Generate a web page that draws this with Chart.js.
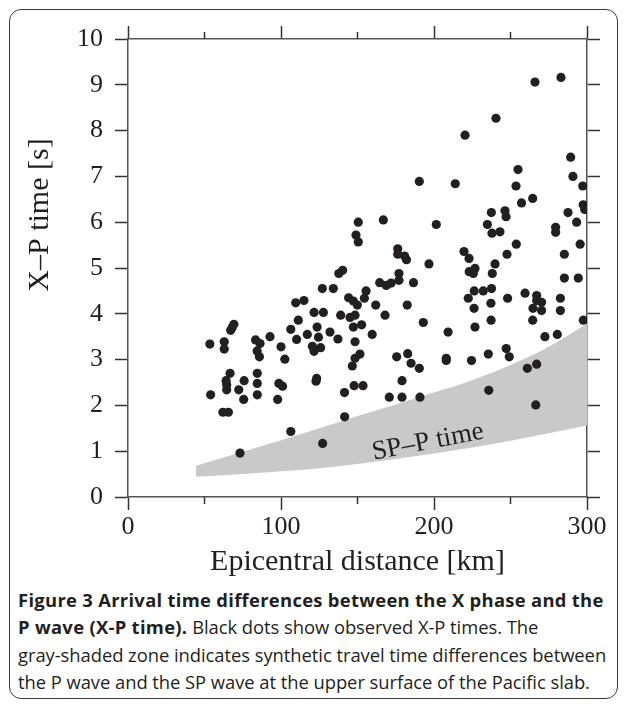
<!DOCTYPE html>
<html>
<head>
<meta charset="utf-8">
<script src="https://cdn.jsdelivr.net/npm/chart.js@4.4.1/dist/chart.umd.min.js"></script>
<style>
  html, body { margin: 0; padding: 0; background: #fff; }
  body { width: 627px; height: 704px; position: relative; overflow: hidden; }
  #frame {
    position: absolute; left: 9px; top: 9px; width: 607px; height: 688px;
    border: 1.5px solid #3a3a3a; border-radius: 12px;
  }
  #xpChart { position: absolute; left: 0; top: 0; }
  #caption {
    position: absolute; left: 18px; top: 586px; width: 605px;
    font-family: "Open Sans", sans-serif; font-size: 18.4px; line-height: 27.3px;
    letter-spacing: -0.05px; color: #231f20; white-space: nowrap;
  }
  #caption b { font-weight: 700; letter-spacing: 0.3px; }
</style>
</head>
<body>
<div id="frame"></div>
<canvas id="xpChart" width="627" height="580"></canvas>
<div id="caption"><b>Figure 3 Arrival time differences between the X phase and the<br>P wave (X-P time).</b> Black dots show observed X-P times. The<br>gray-shaded zone indicates synthetic travel time differences between<br>the P wave and the SP wave at the upper surface of the Pacific slab.</div>

<script>
// ============================================
// X-P TIME vs EPICENTRAL DISTANCE
// ============================================

// observed X-P times (km, s)
const distanceKm = [
    266, 283, 240.5, 220.3, 289.3, 254.9, 290.8, 190.4, 213.9, 253.6,
    297.2, 264.5, 257.2, 297.5, 298.5, 287.6, 246.4, 237.5, 247.1, 293.2,
    150.5, 166.9, 201.5, 234.9, 279.5, 279.5, 237.9, 243.1, 149, 150.5,
    253.8, 295.5, 176.3, 219.6, 176.3, 247.7, 285.2, 180.8, 182, 222.9,
    196.7, 239.9,
    140.3, 137.8, 223, 226.8, 225.7, 238.1, 177.1, 177.1, 285.2, 294.3,
    164.5, 168.8, 172, 186.6, 127, 134.2, 155.6, 226.3, 232.2, 237.6,
    259.5, 267.1, 154.5, 144.2, 147.3, 149.9, 222.4, 248.1, 282.6, 267.1,
    270.3, 109.6, 115, 237.2, 161.9, 182.5, 226.2, 264.7, 270.3, 282.6,
    121.6, 127.7,
    139, 145.1, 148.4, 168, 111.3, 237.3, 264.5, 297.6, 193, 152.7,
    69.2, 68.1, 67.1, 106.4, 123.6, 147.3, 226.8, 209.2, 132, 117.2,
    159.6, 280.6, 124.5, 92.8, 272.5, 137.2, 110.2, 83.4, 86.3, 62.9,
    148.4, 53.5, 62.9, 100, 120.5, 125.9, 247.2, 121.6, 84.4, 151.6,
    182.8, 235.5, 85.9, 175.6, 249.2, 102.5, 148.4, 208, 208, 224.5,
    185, 267.1, 146.6, 190.4, 261, 66.7, 84.5, 123.3, 122.9, 64.1,
    75.9, 179.1, 84.5, 98.6, 101, 64.5, 147.8, 153.6, 64.5, 72.4,
    235.8, 141.5, 54, 84.5, 75.6, 97.8, 170.8, 179.1, 190.8, 266.5,
    62, 65.6, 141.6, 106.4, 127.2, 73.2
];
const xpTime = [
    9.06, 9.16, 8.27, 7.90, 7.42, 7.15, 7.00, 6.89, 6.84, 6.79,
    6.79, 6.52, 6.42, 6.38, 6.28, 6.21, 6.25, 6.21, 6.12, 6.00,
    6.00, 6.05, 5.95, 5.95, 5.89, 5.78, 5.76, 5.79, 5.72, 5.57,
    5.52, 5.52, 5.42, 5.36, 5.30, 5.30, 5.30, 5.26, 5.18, 5.21,
    5.09, 5.09,
    4.95, 4.88, 4.92, 4.99, 4.88, 4.88, 4.88, 4.73, 4.78, 4.78,
    4.68, 4.62, 4.67, 4.68, 4.55, 4.55, 4.50, 4.50, 4.50, 4.55,
    4.45, 4.40, 4.34, 4.35, 4.28, 4.19, 4.34, 4.34, 4.34, 4.29,
    4.25, 4.24, 4.29, 4.23, 4.19, 4.19, 4.12, 4.12, 4.07, 4.07,
    4.03, 4.03,
    3.97, 3.92, 3.97, 3.97, 3.86, 3.86, 3.86, 3.86, 3.81, 3.76,
    3.77, 3.70, 3.64, 3.66, 3.71, 3.71, 3.71, 3.60, 3.60, 3.55,
    3.55, 3.55, 3.49, 3.50, 3.50, 3.45, 3.44, 3.43, 3.35, 3.39,
    3.39, 3.34, 3.23, 3.28, 3.29, 3.26, 3.24, 3.18, 3.19, 3.12,
    3.13, 3.12, 3.06, 3.06, 3.06, 3.01, 3.03, 3.03, 2.98, 2.98,
    2.92, 2.90, 2.86, 2.81, 2.81, 2.70, 2.70, 2.59, 2.53, 2.54,
    2.54, 2.54, 2.48, 2.48, 2.42, 2.45, 2.43, 2.43, 2.34, 2.34,
    2.33, 2.28, 2.23, 2.23, 2.13, 2.13, 2.18, 2.18, 2.18, 2.01,
    1.85, 1.85, 1.75, 1.43, 1.17, 0.96
];

// synthetic SP-P time zone (gray band)
const bandDistance = [44.4, 75, 100, 125, 150, 175, 200, 225, 250, 275, 300];
const bandUpper    = [0.68, 0.99, 1.24, 1.50, 1.77, 2.02, 2.28, 2.55, 2.88, 3.28, 3.79];
const bandLower    = [0.44, 0.50, 0.56, 0.63, 0.72, 0.83, 0.95, 1.08, 1.23, 1.39, 1.56];
const bandLabel = { text: 'SP\u2013P time', x: 196, y: 1.2, angle: -11 };

// axis ticks
const xMajorStep = 100;
const xMinorTicks = [50, 150, 250];
const yStep = 1;

const SERIF = '"Liberation Serif", "Times New Roman", serif';
const INK = '#231f20';
const AXIS = '#555555';

function points(xs, ys) {
    return xs.map(function(x, i) { return { x: x, y: ys[i] }; });
}

// minor ticks, y title and band label
const extrasPlugin = {
    id: 'extras',
    afterDraw: function(chart) {
        const ctx = chart.ctx;
        const area = chart.chartArea;
        const xs = chart.scales.x;
        const ys = chart.scales.y;

        ctx.save();
        ctx.strokeStyle = '#333';
        ctx.lineWidth = 1.5;
        xMinorTicks.forEach(function(v) {
            const px = xs.getPixelForValue(v);
            ctx.beginPath();
            ctx.moveTo(px, area.bottom);
            ctx.lineTo(px, area.bottom + 7);
            ctx.moveTo(px, area.top);
            ctx.lineTo(px, area.top - 7);
            ctx.stroke();
        });

        // y axis title
        ctx.fillStyle = INK;
        ctx.font = '30px ' + SERIF;
        ctx.textAlign = 'center';
        ctx.textBaseline = 'middle';
        ctx.translate(area.left - 88, area.top + 176);
        ctx.rotate(-Math.PI / 2);
        ctx.fillText('X\u2013P time [s]', 0, 0);
        ctx.restore();

        // band label
        ctx.save();
        ctx.fillStyle = INK;
        ctx.font = '27px ' + SERIF;
        ctx.textAlign = 'center';
        ctx.textBaseline = 'middle';
        ctx.translate(xs.getPixelForValue(bandLabel.x), ys.getPixelForValue(bandLabel.y));
        ctx.rotate(bandLabel.angle * Math.PI / 180);
        ctx.fillText(bandLabel.text, 0, 0);
        ctx.restore();
    }
};

function frameScale(axis, position, min, max, step, size, showLabels) {
    return {
        type: 'linear',
        axis: axis,
        position: position,
        min: min,
        max: max,
        ticks: {
            stepSize: step,
            display: showLabels,
            color: INK,
            font: { family: SERIF, size: 26 },
            padding: axis === 'y' ? 12 : 2
        },
        grid: {
            drawOnChartArea: false,
            drawTicks: true,
            tickLength: 13,
            tickColor: '#333',
            tickWidth: 1.5
        },
        border: { display: true, color: AXIS, width: 1.5 },
        afterFit: function(scale) {
            if (axis === 'x') scale.height = size;
            else scale.width = size;
        }
    };
}

function initChart() {
    const canvas = document.getElementById('xpChart');
    const ctx = canvas.getContext('2d');

    const xBottom = frameScale('x', 'bottom', 0, 300, xMajorStep, 83, true);
    xBottom.title = {
        display: true,
        text: 'Epicentral distance [km]',
        color: INK,
        font: { family: SERIF, size: 30 },
        padding: 0
    };

    new Chart(ctx, {
        type: 'scatter',
        data: {
            datasets: [{
                label: 'X-P time',
                data: points(distanceKm, xpTime),
                backgroundColor: INK,
                borderWidth: 0,
                pointRadius: 4.6,
                order: 0
            }, {
                label: 'band lower',
                data: points(bandDistance, bandLower),
                showLine: true,
                borderWidth: 0,
                borderColor: 'rgba(0,0,0,0)',
                pointRadius: 0,
                cubicInterpolationMode: 'monotone',
                fill: false,
                order: 2
            }, {
                label: 'SP-P time',
                data: points(bandDistance, bandUpper),
                showLine: true,
                borderWidth: 0,
                borderColor: 'rgba(0,0,0,0)',
                backgroundColor: '#c9c9c9',
                pointRadius: 0,
                cubicInterpolationMode: 'monotone',
                fill: '-1',
                order: 1
            }]
        },
        options: {
            responsive: false,
            animation: false,
            layout: { padding: 0 },
            plugins: {
                legend: { display: false },
                tooltip: { enabled: false }
            },
            scales: {
                x: xBottom,
                xTop: frameScale('x', 'top', 0, 300, xMajorStep, 39, false),
                y: frameScale('y', 'left', 0, 10, yStep, 128, true),
                yRight: frameScale('y', 'right', 0, 10, yStep, 40, false)
            }
        },
        plugins: [extrasPlugin]
    });
}

document.addEventListener('DOMContentLoaded', initChart);
</script>
</body>
</html>
